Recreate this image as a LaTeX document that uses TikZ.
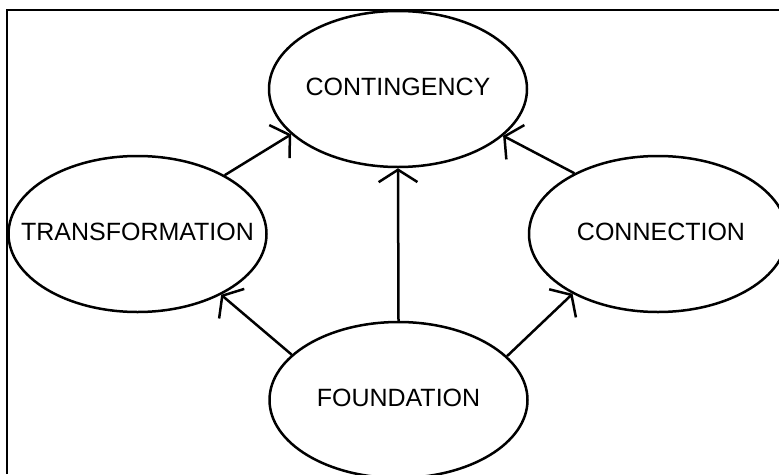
\documentclass[tikz,border=0pt]{standalone}
\usepackage{fontspec}
\setmainfont{Liberation Sans}
\usetikzlibrary{shapes.geometric,arrows.meta}
\tikzset{
  bubble/.style={draw, ellipse, line width=2.5pt, inner sep=0pt,
    minimum width=258pt, minimum height=156pt},
  caption/.style={inner sep=0pt, font=\fontsize{25}{30}\selectfont,
    text height=18pt, text depth=6pt},
  link/.style={line width=2.5pt, -{Straight Barb[angle=115:23pt]}},
  frame/.style={line width=2.2pt}
}
\begin{document}
\begin{tikzpicture}[x=1pt,y=-1pt]
\useasboundingbox (0,0) rectangle (779,474);
\coordinate (fbl) at (7.3,474);
\coordinate (ftl) at (7.3,10);
\coordinate (ftr) at (779,10);
\draw[frame] (fbl) -- (ftl) -- (ftr);
\node[bubble, label={[caption]center:CONTINGENCY}] (cont) at (398,89) {};
\node[bubble, label={[caption]center:TRANSFORMATION}] (trans) at (137.5,234) {};
\node[bubble, label={[caption, xshift=3pt]center:CONNECTION}] (conn) at (658,234) {};
\node[bubble, label={[caption]center:FOUNDATION}] (found) at (398.5,400) {};
\draw[link] (trans.34.6) -- (cont.203.5);
\draw[link] (conn.144.9) -- (cont.336);
\draw[link] (found.90) -- (cont.270);
\draw[link] (found.157.1) -- (trans.324.8);
\draw[link] (found.22.6) -- (conn.215.4);
\end{tikzpicture}
\end{document}
